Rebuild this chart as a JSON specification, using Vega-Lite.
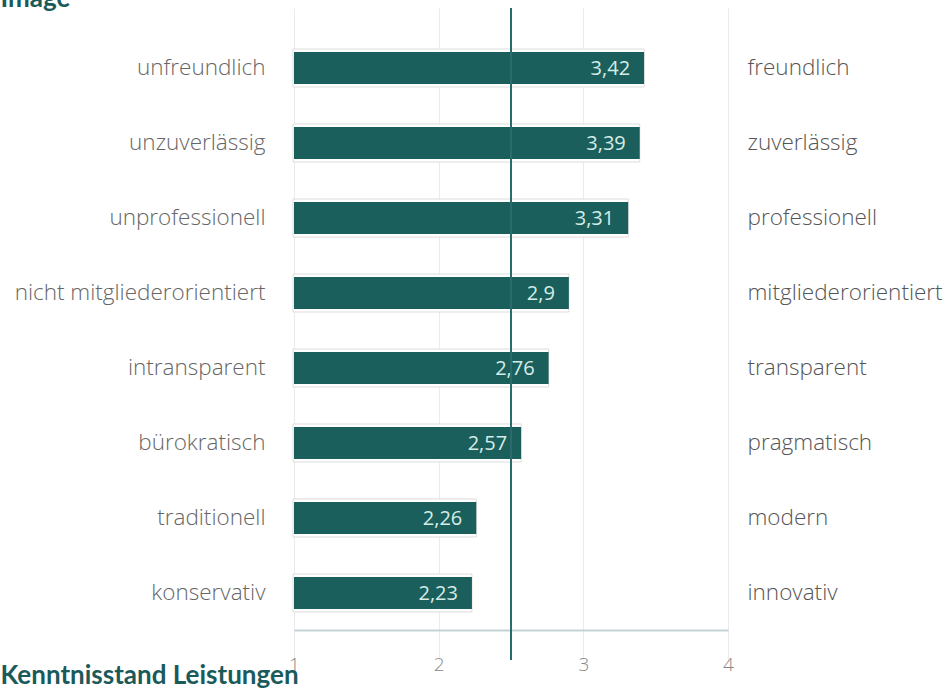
{
  "$schema": "https://vega.github.io/schema/vega-lite/v6.json",
  "width": 434,
  "height": 652,
  "autosize": {"type": "none"},
  "padding": {"left": 294, "top": 8, "right": 219, "bottom": 29},
  "background": "#ffffff",
  "config": {
    "view": {"stroke": null},
    "font": "Open Sans",
    "locale": {"number": {"decimal": ",", "thousands": ".", "grouping": [3], "currency": ["", " €"]}}
  },
  "data": {
    "values": [
      {"links": "unfreundlich", "rechts": "freundlich", "wert": 3.42},
      {"links": "unzuverlässig", "rechts": "zuverlässig", "wert": 3.39},
      {"links": "unprofessionell", "rechts": "professionell", "wert": 3.31},
      {"links": "nicht mitgliederorientiert", "rechts": "mitgliederorientiert", "wert": 2.9},
      {"links": "intransparent", "rechts": "transparent", "wert": 2.76},
      {"links": "bürokratisch", "rechts": "pragmatisch", "wert": 2.57},
      {"links": "traditionell", "rechts": "modern", "wert": 2.26},
      {"links": "konservativ", "rechts": "innovativ", "wert": 2.23}
    ]
  },
  "resolve": {"scale": {"y": "independent"}, "axis": {"y": "independent"}},
  "layer": [
    {
      "encoding": {
        "y": {
          "field": "links", "type": "nominal", "sort": null,
          "scale": {"paddingInner": 0.57, "paddingOuter": 0.6317, "align": 0.463},
          "axis": {
            "title": "Image", "titleAngle": 0, "titleAlign": "left", "titleBaseline": "alphabetic",
            "titleX": -294, "titleY": -2, "titleAnchor": null,
            "titleFont": "Lato", "titleFontSize": 26, "titleFontWeight": "bold", "titleColor": "#1b5a5a",
            "orient": "left", "domain": false, "ticks": false,
            "labelPadding": 29, "labelFontSize": 22.5, "labelColor": "#666666",
            "labelFont": "Open Sans", "labelFontWeight": 300, "labelLimit": 400
          }
        },
        "x": {
          "field": "wert", "type": "quantitative",
          "scale": {"domain": [1, 4], "zero": false, "nice": false},
          "axis": {
            "title": "Kenntnisstand Leistungen",
            "titleAnchor": "start", "titleAlign": "left", "titleX": -294, "titleY": 53,
            "titleBaseline": "alphabetic",
            "titleFont": "Lato", "titleFontSize": 26, "titleFontWeight": "bold", "titleColor": "#1b5a5a",
            "values": [1, 2, 3, 4], "format": "d", "offset": -30,
            "domainColor": "#c5d3d6", "domainWidth": 2,
            "ticks": false, "labelPadding": 25, "labelFontSize": 19, "labelColor": "#888888",
            "labelFont": "Open Sans", "labelFontWeight": 300, "labelFlush": false,
            "grid": true, "gridColor": "#ebebeb", "gridWidth": 1
          }
        }
      },
      "layer": [
        {
          "mark": {"type": "bar", "fill": "#ffffff", "stroke": "#dcdcdc", "strokeWidth": 1, "height": 38, "x2Offset": -1},
          "encoding": {"x2": {"datum": 1}}
        },
        {
          "mark": {"type": "bar", "color": "#1a5f5c", "height": 32},
          "encoding": {"x2": {"datum": 1}}
        },
        {
          "mark": {"type": "text", "align": "right", "baseline": "middle", "dx": -14, "dy": 1, "fontSize": 20, "color": "#d6ece7", "font": "Open Sans"},
          "encoding": {
            "text": {"field": "wert", "type": "quantitative", "format": ".2~f"}
          }
        },
        {
          "mark": {"type": "rule", "color": "#2a6b6b", "strokeWidth": 2},
          "encoding": {"x": {"datum": 2.5}, "y": null}
        }
      ]
    },
    {
      "mark": {"type": "bar", "opacity": 0},
      "encoding": {
        "y": {
          "field": "rechts", "type": "nominal", "sort": null,
          "scale": {"paddingInner": 0.57, "paddingOuter": 0.6317, "align": 0.463},
          "axis": {
            "title": null, "orient": "right", "domain": false, "ticks": false,
            "labelPadding": 19, "labelFontSize": 22.5, "labelColor": "#555555",
            "labelFont": "Open Sans", "labelFontWeight": 300, "labelLimit": 400
          }
        },
        "x": {"field": "wert", "type": "quantitative"},
        "x2": {"datum": 1}
      }
    }
  ]
}
